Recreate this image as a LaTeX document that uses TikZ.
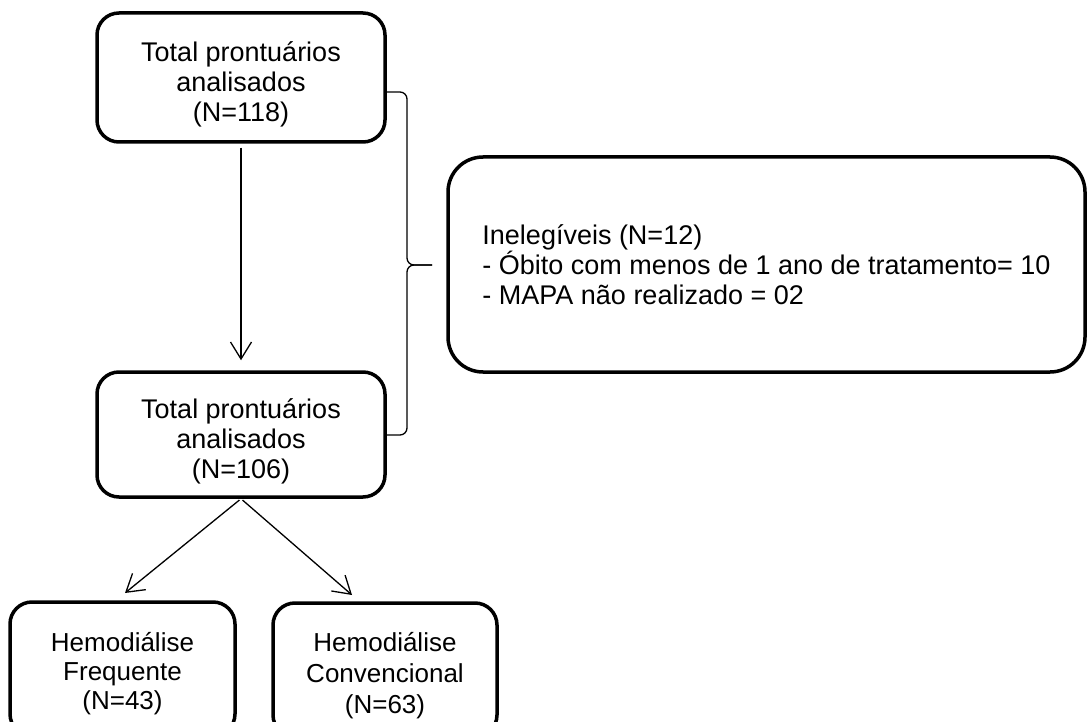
\documentclass[tikz,border=0pt]{standalone}
\usepackage{fontspec}
\setmainfont{Liberation Sans}
\usetikzlibrary{arrows.meta}
\begin{document}
\begin{tikzpicture}[x=1pt,y=-1pt,
 box/.style={draw, line width=3.5pt, rounded corners=22pt, align=center, inner sep=0pt, font=\fontsize{27}{30}\selectfont},
 conn/.style={line width=1.3pt},
 arr/.style={conn, -{Straight Barb[length=17pt,width=21pt,line width=1.3pt]}}]
\useasboundingbox (0,0) rectangle (1089,722);
\clip (0,0) rectangle (1089,722);
\node[box, minimum width=288pt, minimum height=129pt] (b1) at (241,77.5) {\rule{0pt}{33pt}Total prontuários\\analisados\\(N=118)};
\node[box, minimum width=288pt, minimum height=125pt] (b2) at (241,434.5) {\rule{0pt}{33pt}Total prontuários\\analisados\\(N=106)};
\node[box, rounded corners=35pt, minimum width=637pt, minimum height=215pt, align=left] (b5) at (766.5,264.5) {Inelegíveis (N=12)\\- Óbito com menos de 1 ano de tratamento= 10\\- MAPA não realizado = 02};
\node[box, font=\fontsize{26}{29}\selectfont, minimum width=225pt, minimum height=134pt] (b3) at (122.5,669) {\rule{0pt}{28pt}Hemodiálise\\Frequente\\(N=43)};
\node[box, font=\fontsize{26}{31}\selectfont, minimum width=224pt, minimum height=134pt] (b4) at (385,670) {\rule{0pt}{30pt}Hemodiálise\\Convencional\\(N=63)};
\coordinate (t1) at (125,593);
\coordinate (t2) at (352,595);
\draw[arr, shorten <=4pt, shorten >=10pt] (b1.south) -- (b2.north);
\draw[arr, shorten <=2pt] (b2.south) -- (t1);
\draw[arr, shorten <=2pt] (b2.south) -- (t2);
% brace
\coordinate (bt) at (385,92);
\coordinate (bb) at (385,435);
\coordinate (tip) at (432,265);
\draw[conn, rounded corners=7pt] (bt) -- (407,92) -- (407,265) -- (tip);
\draw[conn, rounded corners=7pt] (bb) -- (407,435) -- (407,265) -- (tip);
\end{tikzpicture}
\end{document}
